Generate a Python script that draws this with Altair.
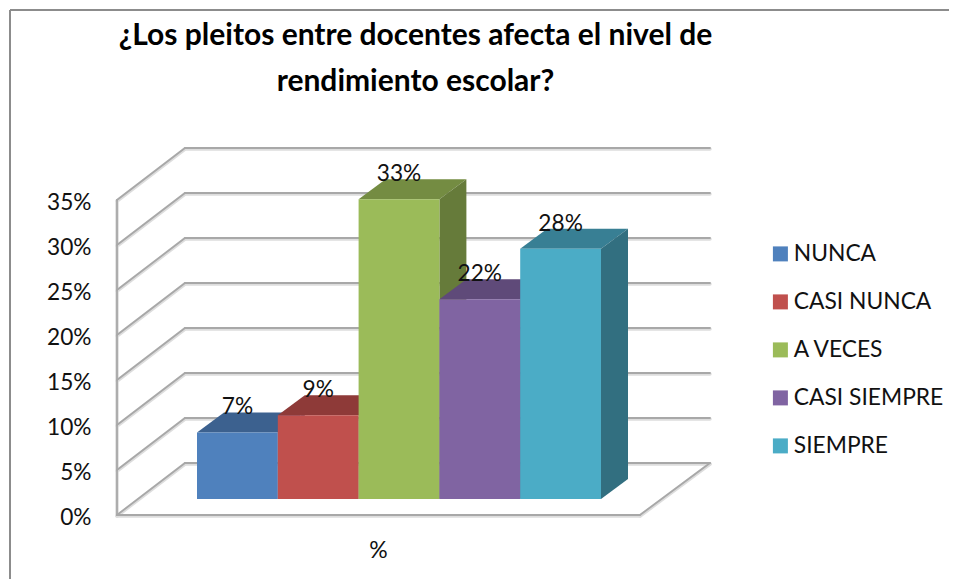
import altair as alt
import pandas as pd

categories = ["NUNCA", "CASI NUNCA", "A VECES", "CASI SIEMPRE", "SIEMPRE"]
values = [7.4, 9.3, 33.3, 22.2, 27.8]
front_colors = ["#4F81BD", "#C0504D", "#9BBB59", "#8064A2", "#4BACC6"]
top_colors = ["#3C618F", "#8E3A38", "#748C42", "#5F4A79", "#387F94"]
side_colors = ["#375A85", "#7F3432", "#667B3A", "#54416C", "#326F80"]
ticks = [0, 5, 10, 15, 20, 25, 30, 35]
title_lines = ["¿Los pleitos entre docentes afecta el nivel de", "rendimiento escolar?"]

FONT = "Lato"
PX_X = 80.8   # px per category slot
PX_Y = 9.0    # px per percentage point
W, H = 848, 451
x_scale = alt.Scale(domain=[0, W / PX_X], nice=False, zero=False)
y_scale = alt.Scale(domain=[-56 / PX_Y, 395 / PX_Y], nice=False, zero=False)

# 3-D layout in chart units
WALL_X0 = 17 / PX_X
WALL_X1 = 540 / PX_X
WALL_DX = 68 / PX_X
WALL_DY = 52 / PX_Y
BACK_X1 = 610 / PX_X
BAR_X0 = 97 / PX_X
BAR_BASE = 16 / PX_Y
BAR_DX = 27 / PX_X
BAR_DY = 20 / PX_Y

# frame of the 3-D walls
seg = []
for t in ticks:
    seg.append(dict(x=WALL_X0, y=t, x2=WALL_X0 + WALL_DX, y2=t + WALL_DY))
    seg.append(dict(x=WALL_X0 + WALL_DX, y=t + WALL_DY, x2=BACK_X1, y2=t + WALL_DY))
seg.append(dict(x=WALL_X0, y=0, x2=WALL_X0, y2=35))
seg.append(dict(x=WALL_X0, y=0, x2=WALL_X1, y2=0))
seg.append(dict(x=WALL_X1, y=0, x2=BACK_X1, y2=WALL_DY))
seg_df = pd.DataFrame(seg)

fronts, faces, labels = [], [], []
for i, (c, v) in enumerate(zip(categories, values)):
    x0, x1 = BAR_X0 + i, BAR_X0 + i + 1
    base, top = BAR_BASE, BAR_BASE + v
    fronts.append(dict(cat=c, x=x0, x2=x1, y=base, y2=top))
    labels.append(dict(x=(x0 + x1) / 2, y=top + 2.8, t=f"{round(v)}%"))
    for px, lo, hi in [
        (x0, top, top),
        (x0 + BAR_DX, top, top + BAR_DY),
        (x1, top, top + BAR_DY),
        (x1 + BAR_DX, top + BAR_DY, top + BAR_DY),
    ]:
        faces.append(dict(key=f"{i}a", shade=top_colors[i], x=px, y=lo, y2=hi))
    for px, lo, hi in [(x1, base, top), (x1 + BAR_DX, base + BAR_DY, top + BAR_DY)]:
        faces.append(dict(key=f"{i}b", shade=side_colors[i], x=px, y=lo, y2=hi))
front_df = pd.DataFrame(fronts)
face_df = pd.DataFrame(faces)
label_df = pd.DataFrame(labels)

x_axis = alt.Axis(
    title="%", labels=False, ticks=False, domain=False, grid=False,
    titleFont=FONT, titleFontWeight="normal", titleFontSize=23, titleColor="#111",
    titleX=278, titleY=-21, titleBaseline="middle", titleAlign="center",
)
y_axis = alt.Axis(
    title=None, values=ticks, labelExpr="datum.value + '%'", ticks=False,
    domain=False, grid=False, labelFont=FONT, labelFontSize=22.7,
    labelColor="#111", labelPadding=9, labelOffset=2,
)
X = alt.X("x:Q", scale=x_scale, axis=x_axis)
Y = alt.Y("y:Q", scale=y_scale, axis=y_axis)


def rules(color, width, dy=0):
    return alt.Chart(seg_df).mark_rule(
        color=color, strokeWidth=width, strokeCap="round", yOffset=dy, y2Offset=dy
    ).encode(X, Y, x2="x2:Q", y2="y2:Q")


faces_layer = alt.Chart(face_df).mark_area(opacity=1, interpolate="linear").encode(
    X, Y, y2="y2:Q",
    detail="key:N",
    color=alt.Color("shade:N", scale=None, legend=None),
)

bars = alt.Chart(front_df).mark_rect(strokeWidth=0).encode(
    X,
    Y,
    x2="x2:Q",
    y2="y2:Q",
    color=alt.Color(
        "cat:N",
        scale=alt.Scale(domain=categories, range=front_colors),
        sort=categories,
        legend=alt.Legend(
            title=None, orient="none", legendX=669, legendY=122.5,
            symbolType="square", symbolSize=225, symbolStrokeWidth=0,
            labelFont=FONT, labelFontSize=22.8, labelColor="#111",
            labelOffset=2, rowPadding=24, labelLimit=200,
        ),
    ),
)

text = alt.Chart(label_df).mark_text(
    font=FONT, fontSize=22.7, color="#111", baseline="middle", align="center"
).encode(X, Y, text="t:N")

border_top = alt.Chart(pd.DataFrame({"a": [0]})).mark_rule(color="#8C8C8C", strokeWidth=2).encode(
    x=alt.value(-90), x2=alt.value(849), y=alt.value(-110)
)
border_left = alt.Chart(pd.DataFrame({"a": [0]})).mark_rule(color="#8C8C8C", strokeWidth=2).encode(
    x=alt.value(-90), y=alt.value(-110), y2=alt.value(459)
)

chart = (
    alt.layer(rules("#DDDDDD", 3.5, 1), rules("#A8A8A8", 1.8),
              faces_layer, bars, text, border_top, border_left)
    .resolve_scale(color="independent")
    .properties(
        width=W,
        height=H,
        background="white",
        padding={"left": 92, "top": 112, "right": 1, "bottom": 8},
        autosize=alt.AutoSizeParams(type="none"),
        title=alt.TitleParams(
            text=title_lines, font=FONT, fontSize=30, fontWeight="bold", color="#000",
            anchor="middle", frame="group", dx=-108.5, offset=-88, baseline="top", lineHeight=46,
        ),
    )
    .configure_view(stroke=None)
)

chart.save("out.html", embed_options={"renderer": "svg", "actions": False})
